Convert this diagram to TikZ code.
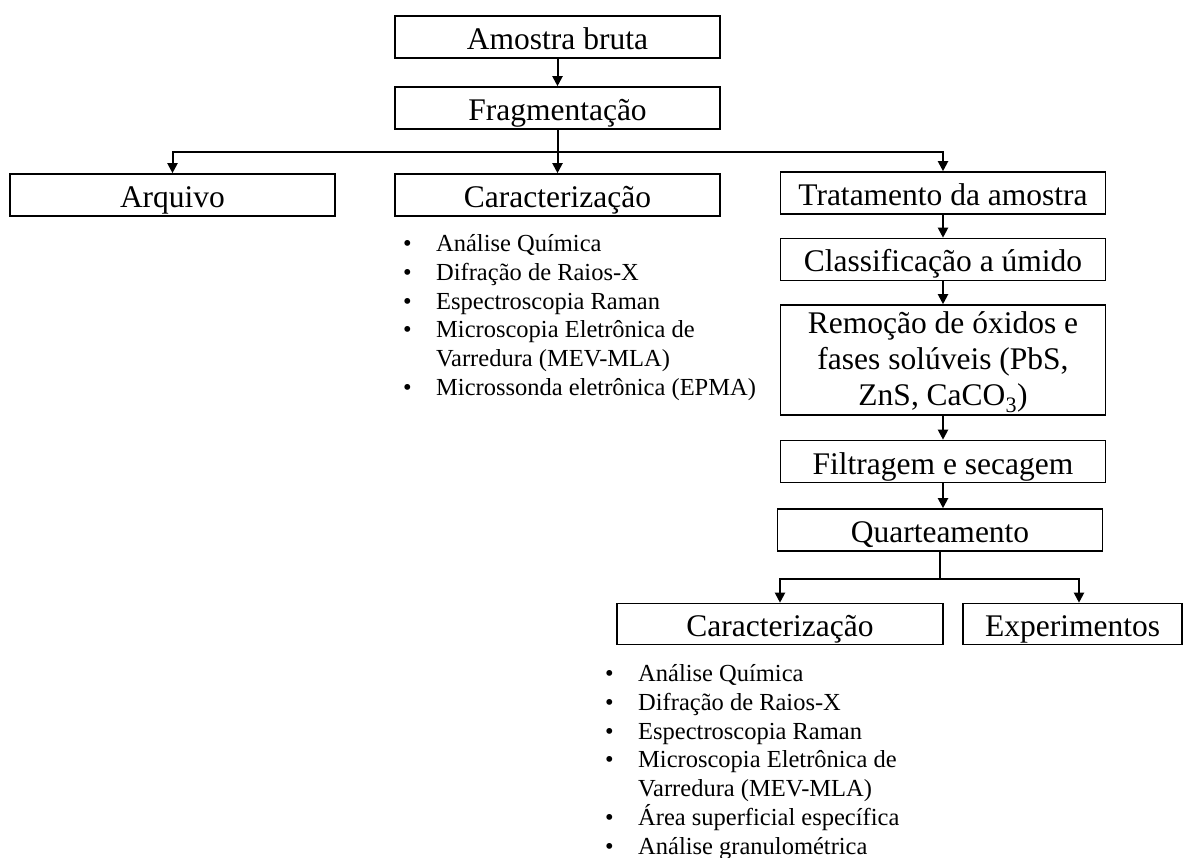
\documentclass[tikz,border=0pt]{standalone}
\usepackage{fontspec}
\setmainfont{Liberation Serif}
\usetikzlibrary{arrows.meta}
\newcommand{\marca}{\makebox[33pt][l]{\textbullet}}
\newcommand{\recuo}{\hspace*{33pt}}
\begin{document}
\begin{tikzpicture}[x=1pt,y=-1pt,
  caixa/.style={draw,line width=1.6pt,minimum width=325pt,minimum height=42pt,inner sep=0pt,text height=27pt,text depth=2pt,font=\fontsize{31.5}{38}\selectfont},
  lista/.style={anchor=north west,align=left,inner sep=0pt,font=\fontsize{24.5}{28.9}\selectfont},
  seta/.style={line width=2pt,-{Triangle[length=10pt,width=10pt]}}]
\useasboundingbox (0,0) rectangle (1183,858);
% coluna central
\node[caixa] (amostra) at (557.5,37) {Amostra bruta};
\node[caixa] (frag) at (557.5,108) {Fragmentação};
\node[caixa] (arquivo) at (172.5,195) {Arquivo};
\node[caixa] (carac) at (557.5,195) {Caracterização};
% tratamento
\node[caixa] (trat) at (943,193) {Tratamento da amostra};
\node[caixa] (classif) at (943,259.5) {Classificação a úmido};
\node[caixa,minimum height=110pt,text height=96pt,text depth=4pt,align=center,font=\fontsize{31.5}{36.5}\selectfont] (remocao) at (943,360) {Remoção de óxidos e\\fases solúveis (PbS,\\ZnS, CaCO\textsubscript{3})};
\node[caixa] (filtr) at (943,461.5) {Filtragem e secagem};
\node[caixa] (quart) at (940,530) {Quarteamento};
\node[caixa,minimum width=326pt,minimum height=41pt] (carac2) at (780,624) {Caracterização};
\node[caixa,minimum width=219pt,minimum height=41pt] (exp) at (1072.5,624) {Experimentos};
% listas
\node[lista] (lista1) at (403,234) {\marca Análise Química\\\marca Difração de Raios-X\\\marca Espectroscopia Raman\\\marca Microscopia Eletrônica de\\\recuo Varredura (MEV-MLA)\\\marca Microssonda eletrônica (EPMA)};
\node[lista] (lista2) at (605,664) {\marca Análise Química\\\marca Difração de Raios-X\\\marca Espectroscopia Raman\\\marca Microscopia Eletrônica de\\\recuo Varredura (MEV-MLA)\\\marca Área superficial específica\\\marca Análise granulométrica};
% setas
\draw[seta] (amostra) -- (frag);
\draw[seta] (frag) -- (carac);
\draw[seta] (frag.south) -- ++(0,22) -| (arquivo.north);
\draw[seta] (frag.south) -- ++(0,22) -| (trat.north);
\draw[seta] (trat) -- (classif);
\draw[seta] (classif) -- (remocao);
\draw[seta] (remocao) -- (filtr);
\draw[seta] (filtr) -- (filtr |- quart.north);
\draw[seta] (quart.south) -- ++(0,27) -| (carac2.north);
\draw[seta] (quart.south) -- ++(0,27) -| ([xshift=6.5pt]exp.north);
\end{tikzpicture}
\end{document}
